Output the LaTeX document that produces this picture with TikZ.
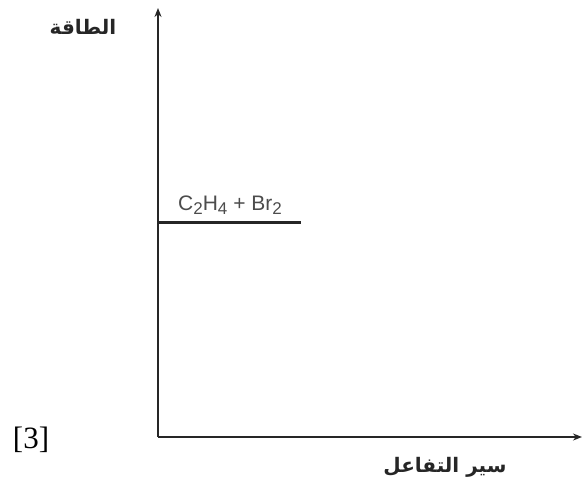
\documentclass[tikz,border=0pt]{standalone}
\usepackage{fontspec}
\setmainfont{Liberation Serif}
\newfontfamily\arabicfont[Script=Arabic]{DejaVu Sans}
\newfontfamily\chemfont{Liberation Sans}
\TeXXeTstate=1
\usetikzlibrary{arrows.meta}
\newcommand{\chsub}[1]{\raisebox{-0.4ex}{\fontsize{17}{19}\selectfont #1}}
\begin{document}
\begin{tikzpicture}[x=1pt,y=-1pt,
  axis/.style={line width=1.5pt,draw=black!85,-{Stealth[length=9pt,width=7pt]}},
  level/.style={line width=3pt,draw=black!85},
  arlabel/.style={font=\arabicfont\bfseries\fontsize{20}{24}\selectfont,inner sep=0pt,text=black!85},
  chem/.style={font=\chemfont\fontsize{21}{24}\selectfont,inner sep=0pt,text=black!70},
  mark3/.style={font=\fontsize{31}{36}\selectfont,inner sep=0pt}]
\useasboundingbox (0,0) rectangle (582,485);
\coordinate (O) at (158,437);
\coordinate (ytop) at (158,8);
\coordinate (xend) at (582,437);
\coordinate (L1) at (158,222);
\coordinate (L2) at (301,222);
\draw[axis] (O) -- (ytop);
\draw[axis] (O) -- (xend);
\draw[level] (L1) -- (L2);
\node[arlabel] (energy) at (83,27) {\beginR الطاقة\endR};
\node[arlabel] (progress) at (445,467) {\beginR سير التفاعل\endR};
\node[chem] (react) at (230,205) {C\chsub{2}H\chsub{4} + Br\chsub{2}};
\node[mark3] (num) at (31,440) {[3]};
\end{tikzpicture}
\end{document}
